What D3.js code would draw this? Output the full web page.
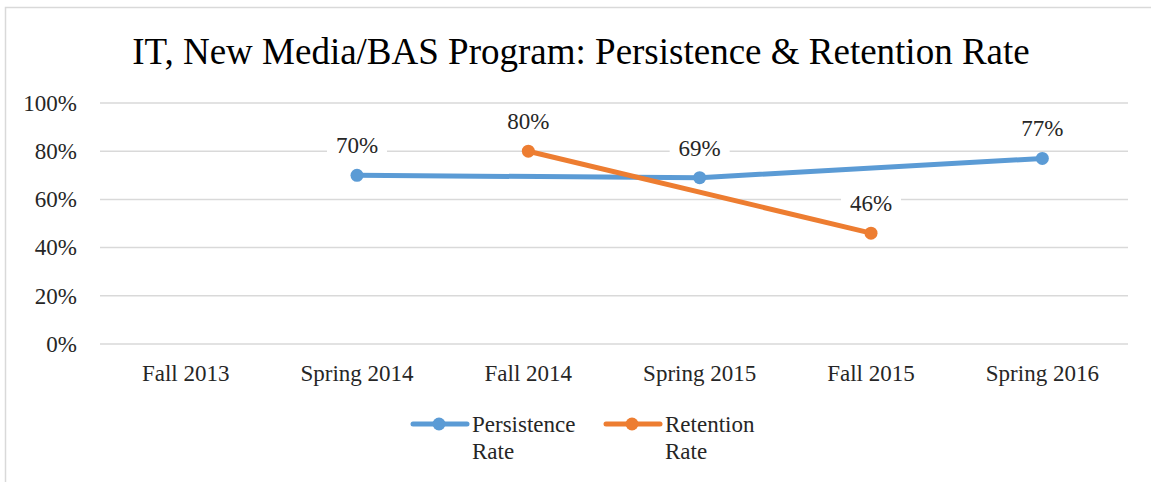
<!DOCTYPE html>
<html>
<head>
<meta charset="utf-8">
<script src="https://cdn.jsdelivr.net/npm/d3@7"></script>
<style>
  body { margin: 0; background: #fff; }
  svg text { font-family: "Liberation Serif", "Times New Roman", serif; fill: #262626; }
</style>
</head>
<body>
<div id="chart_div"></div>
<script>
var categories = ["Fall 2013", "Spring 2014", "Fall 2014", "Spring 2015", "Fall 2015", "Spring 2016"];
var persistence = [null, 0.70, null, 0.69, null, 0.77];
var retention = [null, null, 0.80, null, 0.46, null];
var y_ticks = [0, 0.2, 0.4, 0.6, 0.8, 1.0];
var series_names = ["Persistence Rate", "Retention Rate"];
var series_colors = ["#5B9BD5", "#ED7D31"];

var width = 1151, height = 482;
var font_size = 23;
var svg = d3.select("#chart_div").append("svg")
    .attr("width", width)
    .attr("height", height);

// chart border (right & bottom run off the picture)
svg.append("rect")
    .attr("x", 5.5).attr("y", 7.5)
    .attr("width", 1160).attr("height", 500)
    .attr("fill", "white")
    .attr("stroke", "#d9d9d9")
    .attr("stroke-width", 1.5);

svg.append("text")
    .attr("x", 581).attr("y", 64)
    .attr("text-anchor", "middle")
    .attr("font-size", 37)
    .style("fill", "#000")
    .text("IT, New Media/BAS Program: Persistence & Retention Rate");

var x = d3.scaleBand().domain(categories).range([100, 1128]);
var y = d3.scaleLinear().domain([0, 1]).range([344, 103]);

// gridlines
svg.append("g").selectAll("line")
    .data(y_ticks).enter().append("line")
    .attr("x1", 100).attr("x2", 1128)
    .attr("y1", function(d) { return y(d); })
    .attr("y2", function(d) { return y(d); })
    .attr("stroke", "#d9d9d9")
    .attr("stroke-width", 1.5);

var yAxis = svg.append("g")
    .attr("transform", "translate(100,0)")
    .call(d3.axisLeft(y).tickValues(y_ticks).tickFormat(d3.format(".0%")).tickSize(0).tickPadding(23));
yAxis.select(".domain").remove();
yAxis.selectAll("text").attr("font-size", font_size).attr("font-family", "Liberation Serif").style("fill", "#262626");

var xAxis = svg.append("g")
    .attr("transform", "translate(0,344)")
    .call(d3.axisBottom(x).tickSize(0).tickPadding(21));
xAxis.select(".domain").remove();
xAxis.selectAll("text").attr("font-size", font_size).attr("font-family", "Liberation Serif").style("fill", "#262626");

function draw_series(values, color) {
    var pts = [];
    for (var i = 0; i < values.length; i++) {
        if (values[i] != null) pts.push({ c: categories[i], v: values[i] });
    }
    var line = d3.line()
        .x(function(d) { return x(d.c) + x.bandwidth() / 2; })
        .y(function(d) { return y(d.v); });
    var g = svg.append("g");
    g.append("path")
        .datum(pts)
        .attr("d", line)
        .attr("fill", "none")
        .attr("stroke", color)
        .attr("stroke-width", 5)
        .attr("stroke-linejoin", "round");
    g.selectAll("circle")
        .data(pts).enter().append("circle")
        .attr("cx", function(d) { return x(d.c) + x.bandwidth() / 2; })
        .attr("cy", function(d) { return y(d.v); })
        .attr("r", 6.5)
        .attr("fill", color);
    return pts;
}

var p1 = draw_series(persistence, series_colors[0]);
var p2 = draw_series(retention, series_colors[1]);

// data labels with white boxes
var labels = svg.append("g");
p1.concat(p2).forEach(function(d) {
    var cx = x(d.c) + x.bandwidth() / 2, cy = y(d.v) - 22;
    labels.append("rect")
        .attr("x", cx - 30).attr("y", cy - 23)
        .attr("width", 60).attr("height", 31)
        .attr("fill", "white");
    labels.append("text")
        .attr("x", cx).attr("y", cy)
        .attr("text-anchor", "middle")
        .attr("font-size", font_size)
        .text(d3.format(".0%")(d.v));
});

// legend
var legend_x = [413, 606];
series_names.forEach(function(name, i) {
    var g = svg.append("g").attr("transform", "translate(" + legend_x[i] + ",424)");
    g.append("line")
        .attr("x1", 0).attr("x2", 54)
        .attr("stroke", series_colors[i])
        .attr("stroke-width", 5)
        .attr("stroke-linecap", "round");
    g.append("circle").attr("cx", 26).attr("r", 6.5).attr("fill", series_colors[i]);
    var words = name.split(" ");
    g.append("text").attr("x", 59).attr("y", 8).attr("font-size", font_size).text(words[0]);
    g.append("text").attr("x", 59).attr("y", 35).attr("font-size", font_size).text(words[1]);
});
</script>
</body>
</html>
